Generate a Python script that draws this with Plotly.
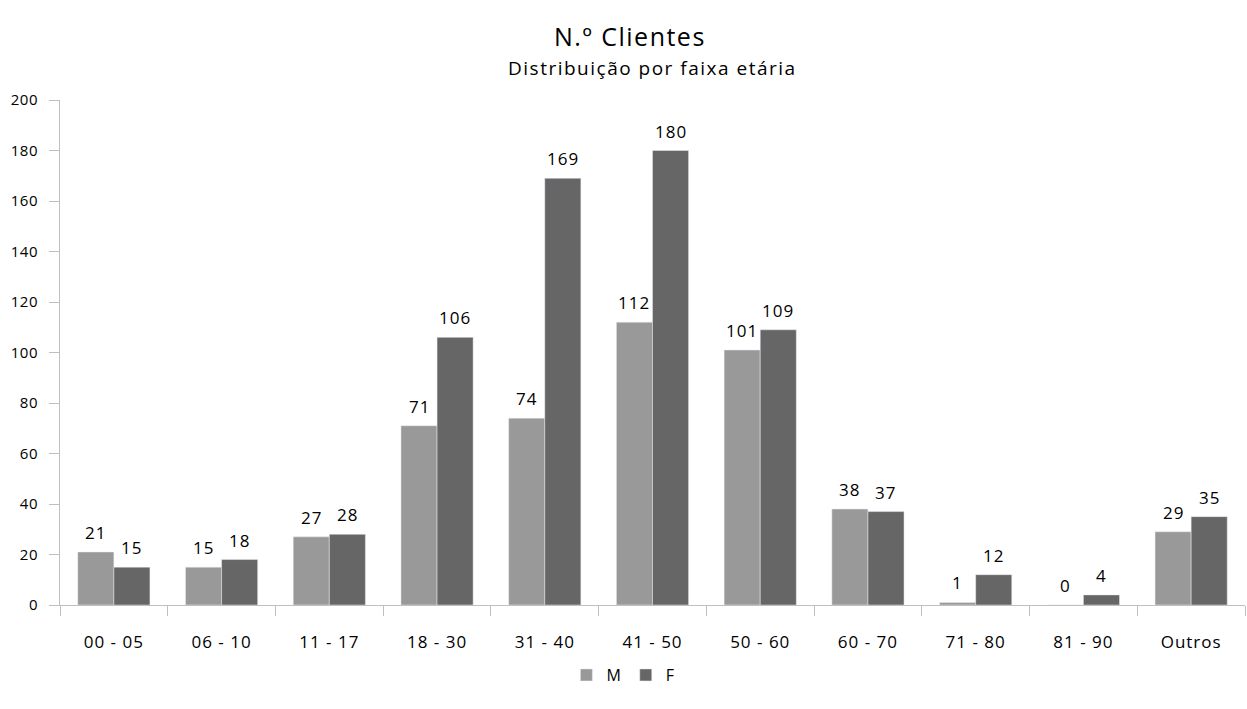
import plotly.graph_objects as go

faixas = ["00 - 05", "06 - 10", "11 - 17", "18 - 30", "31 - 40", "41 - 50",
          "50 - 60", "60 - 70", "71 - 80", "81 - 90", "Outros"]
masculino = [21, 15, 27, 71, 74, 112, 101, 38, 1, 0, 29]
feminino = [15, 18, 28, 106, 169, 180, 109, 37, 12, 4, 35]
y_ticks = list(range(0, 201, 20))

FONT = "Open Sans"
PLOT_W = 1247 - 60 - 2
BAR_PX = PLOT_W / len(faixas) * 0.67 / 2


def spaced(s, px=1):
    return f'<span style="letter-spacing:{px}px">{s}</span>'


fig = go.Figure()
fig.add_trace(go.Bar(name="M", x=faixas, y=masculino, marker_color="#999999"))
fig.add_trace(go.Bar(name="F", x=faixas, y=feminino, marker_color="#666666"))

# value labels above each bar
labels = []
for serie, shift in ((masculino, -BAR_PX / 2), (feminino, BAR_PX / 2)):
    for cat, v in zip(faixas, serie):
        labels.append(dict(
            x=cat, y=v, xref="x", yref="y", text=spaced(v), showarrow=False,
            xshift=shift, yshift=6, yanchor="bottom",
            font=dict(size=17, family=FONT, color="#000000"),
        ))

fig.update_layout(
    width=1247, height=709,
    margin=dict(l=60, r=2, t=100, b=104),
    paper_bgcolor="white", plot_bgcolor="white",
    barmode="group", bargap=0.33, bargroupgap=0,
    font=dict(family=FONT, size=16, color="#000000"),
    showlegend=True,
    legend=dict(orientation="h", x=0.475, xanchor="center", y=-0.105, yanchor="top",
                font=dict(size=16, family=FONT), traceorder="normal"),
    annotations=labels + [
        dict(text=spaced("N.º Clientes", 1.5), x=0.481, y=1.0, xref="paper", yref="paper",
             yshift=83, showarrow=False, font=dict(size=25, family=FONT)),
        dict(text=spaced("Distribuição por faixa etária", 1.5), x=0.5, y=1.0,
             xref="paper", yref="paper", yshift=47, showarrow=False,
             font=dict(size=19, family=FONT)),
    ],
)
fig.update_xaxes(
    type="category", showline=True, linecolor="#bfbfbf", linewidth=1,
    ticks="outside", tickson="boundaries", ticklen=10, tickcolor="#bfbfbf",
    showgrid=False, tickfont=dict(size=17, family=FONT), automargin=False,
    tickmode="array", tickvals=faixas, ticktext=[spaced(f) for f in faixas],
    ticklabelstandoff=22,
)
fig.update_yaxes(
    range=[0, 200], showline=True, linecolor="#bfbfbf", linewidth=1,
    ticks="outside", ticklen=10, tickcolor="#bfbfbf", showgrid=False,
    zeroline=False, tickfont=dict(size=15, family=FONT), automargin=False,
    tickmode="array", tickvals=y_ticks, ticktext=[spaced(t, 0.5) for t in y_ticks],
    ticklabelstandoff=8,
)

fig.write_html("out.html")
